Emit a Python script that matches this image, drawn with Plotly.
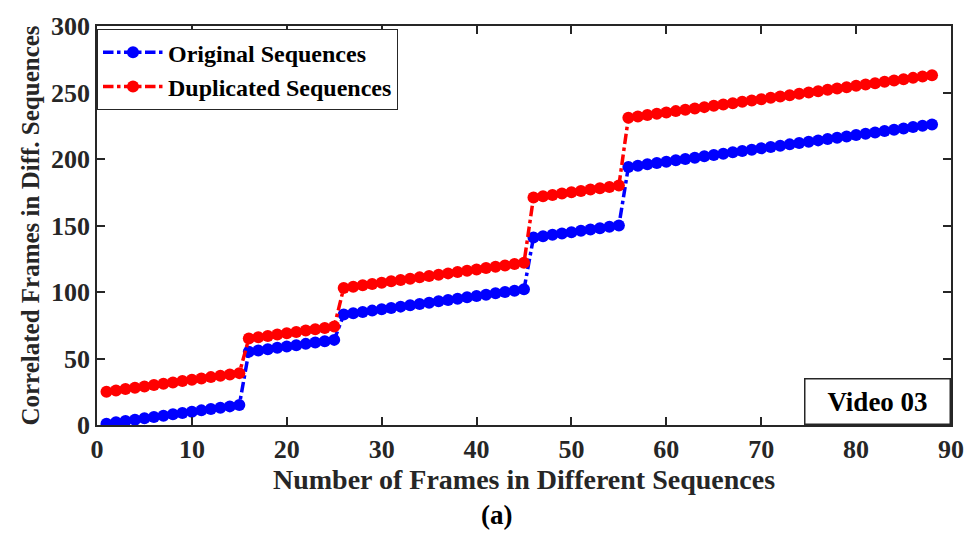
import plotly.graph_objects as go

frames = list(range(1, 89))

original = [
    1, 2, 3, 4, 5, 6, 7, 8, 9, 10, 11, 12, 13, 14, 15,
    55, 56, 57, 58, 59, 60, 61, 62, 63, 64,
    83, 84, 85, 86, 87, 88, 89, 90, 91, 92, 93, 94, 95, 96, 97, 98, 99, 100, 101, 102,
    141, 142, 143, 144, 145, 146, 147, 148, 149, 150,
    194, 195, 196, 197, 198, 199, 200, 201, 202, 203, 204, 205, 206, 207, 208, 209, 210,
    211, 212, 213, 214, 215, 216, 217, 218, 219, 220, 221, 222, 223, 224, 225, 226,
]

duplicated = [
    25, 26, 27, 28, 29, 30, 31, 32, 33, 34, 35, 36, 37, 38, 39,
    65, 66, 67, 68, 69, 70, 71, 72, 73, 74,
    103, 104, 105, 106, 107, 108, 109, 110, 111, 112, 113, 114, 115, 116, 117, 118, 119, 120, 121, 122,
    171, 172, 173, 174, 175, 176, 177, 178, 179, 180,
    231, 232, 233, 234, 235, 236, 237, 238, 239, 240, 241, 242, 243, 244, 245, 246, 247,
    248, 249, 250, 251, 252, 253, 254, 255, 256, 257, 258, 259, 260, 261, 262, 263,
]

x_ticks = [0, 10, 20, 30, 40, 50, 60, 70, 80, 90]
y_ticks = [0, 50, 100, 150, 200, 250, 300]

FONT = "Liberation Serif, Times New Roman, serif"

fig = go.Figure()
fig.add_trace(go.Scatter(
    x=frames, y=original, mode="lines+markers", name="Original Sequences",
    line=dict(color="#0000FF", width=3.5, dash="dashdot"),
    marker=dict(color="#0000FF", size=12, symbol="circle"),
))
fig.add_trace(go.Scatter(
    x=frames, y=duplicated, mode="lines+markers", name="Duplicated Sequences",
    line=dict(color="#FF0000", width=3.5, dash="dashdot"),
    marker=dict(color="#FF0000", size=12, symbol="circle"),
))

axis_common = dict(
    showgrid=False, zeroline=False, showline=True, linecolor="#262626", linewidth=1.5,
    mirror="ticks", ticks="inside", ticklen=8, tickwidth=1.5, tickcolor="#262626",
    tickfont=dict(family=FONT, size=26, color="#262626", weight="bold"),
)

fig.update_layout(
    width=976, height=535,
    margin=dict(l=97, r=18, t=15, b=110),
    paper_bgcolor="white", plot_bgcolor="white",
    font=dict(family=FONT, color="#000000"),
    xaxis=dict(range=[0, 90], tickvals=x_ticks, **axis_common,
               title=dict(text="Number of Frames in Different Sequences",
                          font=dict(family=FONT, size=28, color="#262626", weight="bold"),
                          standoff=6)),
    yaxis=dict(range=[0, 300], tickvals=y_ticks, **axis_common,
               title=dict(text="Correlated Frames in Diff. Sequences",
                          font=dict(family=FONT, size=25, color="#262626", weight="bold"),
                          standoff=4)),
    legend=dict(x=0.0, y=0.992, xanchor="left", yanchor="top",
                bgcolor="white", bordercolor="#262626", borderwidth=1,
                font=dict(family=FONT, size=24, color="#000000", weight="bold"),
                tracegroupgap=0, itemwidth=60),
    showlegend=True,
)

fig.add_annotation(
    x=1.0, y=0.0, xref="paper", yref="paper", xanchor="right", yanchor="bottom",
    text="<b>Video 03</b>", showarrow=False,
    font=dict(family=FONT, size=27, color="#000000"),
    bordercolor="#262626", borderwidth=1.5, bgcolor="white",
    width=140, height=40, borderpad=2,
)

fig.add_annotation(
    x=0.468, y=-0.225, xref="paper", yref="paper", xanchor="center", yanchor="middle",
    text="<b>(a)</b>", showarrow=False,
    font=dict(family=FONT, size=27, color="#000000"),
)

fig.write_html("out.html")
